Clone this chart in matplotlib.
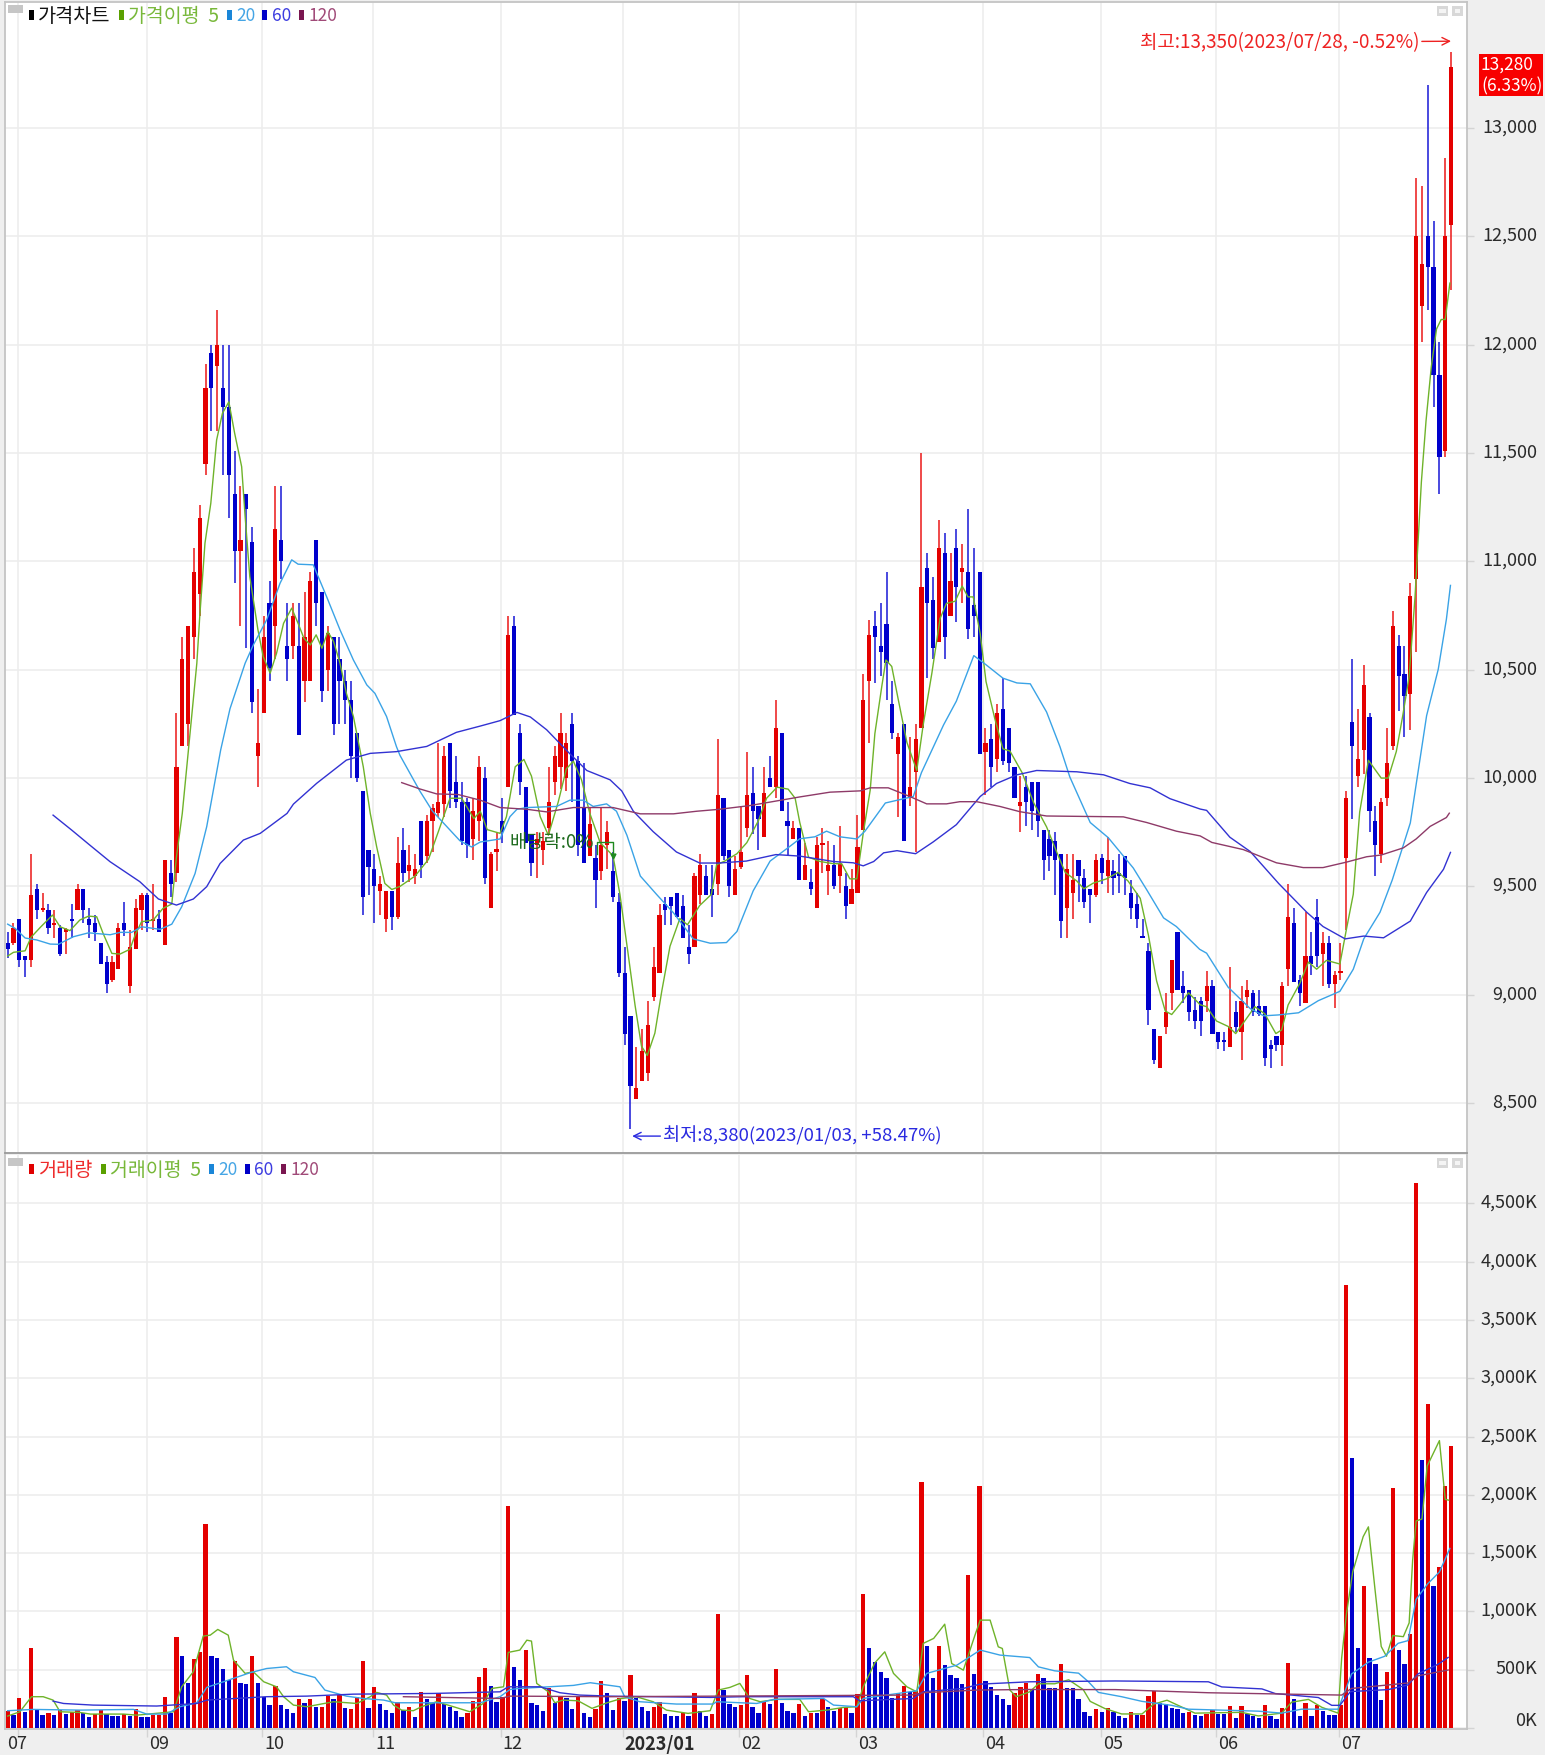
import matplotlib
matplotlib.use("Agg")
import matplotlib.pyplot as plt
from matplotlib.patches import Rectangle
from matplotlib.transforms import ScaledTranslation
import numpy as np

plt.rcParams['font.family'] = ['Noto Sans CJK KR', 'DejaVu Sans']

W, H = 1545, 1755

opens = [9240,9240,9350,9180,9160,9490,9390,9390,9320,9310,
         9290,9350,9390,9490,9350,9330,9240,9150,9070,9120,
         9330,9040,9210,9390,9460,9340,9350,9230,9560,9560,
         10150,10250,10650,10850,11450,11960,11900,11800,11710,11310,
         11050,11310,11090,10100,10300,10810,10700,11100,10610,10610,
         10610,10450,10450,11100,10860,10500,10650,10550,10450,10360,
         10210,9940,9670,9580,9480,9350,9480,9360,9670,9570,
         9550,9800,9640,9800,9840,9880,10160,9980,9890,9890,
         9720,9800,10000,9400,9660,9800,9960,10700,10210,9960,
         9740,9690,9670,9770,9980,10050,10000,10250,10080,9860,
         9640,9630,9570,9690,9570,9430,9100,8900,8520,8600,
         8640,8990,9100,9420,9450,9470,9410,9220,9220,9460,
         9550,9490,9510,9910,9670,9460,9590,9770,9930,9870,
         9730,10000,9960,10210,9800,9720,9770,9530,9520,9400,
         9690,9570,9600,9550,9500,9420,9470,9760,10450,10700,
         10610,10710,10340,10110,10250,9910,10030,10230,10970,10820,
         10630,11040,10750,11060,10950,10950,10800,10950,10120,10180,
         10090,10320,10230,10050,9870,9960,9980,9980,9760,9720,
         9710,9650,9400,9470,9620,9540,9490,9460,9630,9550,
         9570,9560,9640,9470,9420,9270,9200,8840,8660,8850,
         9010,9290,9040,9020,8930,8970,8970,9040,8830,8790,
         8760,8920,8830,8990,9010,8950,8950,8770,8810,8770,
         9120,9330,9070,8960,9180,9360,9190,9240,9050,9100,
         9630,10260,10010,10130,10280,9800,9650,9910,10150,10610,
         10480,10390,10920,12180,12500,12360,11860,11510,12550]
closes = [9210,9310,9160,9160,9460,9390,9400,9310,9330,9190,
          9300,9340,9490,9390,9320,9290,9140,9050,9150,9310,
          9300,9220,9400,9460,9330,9350,9290,9620,9510,10050,
          10550,10700,10950,11200,11800,11800,12000,11710,11400,11050,
          11100,11240,10350,10160,10650,10510,11150,11000,10550,10750,
          10200,10650,10910,10810,10400,10670,10250,10450,10360,10100,
          10000,9450,9590,9500,9510,9480,9360,9610,9560,9600,
          9580,9600,9800,9860,9890,10100,9940,9890,9710,9690,
          9850,10050,9540,9650,9670,9750,10660,10290,9980,9700,
          9610,9720,9710,9890,10100,10210,10160,10080,9690,9610,
          9790,9530,9690,9750,9450,9100,8820,8580,8570,8740,
          8860,9130,9370,9390,9410,9360,9260,9190,9550,9600,
          9460,9460,9920,9640,9500,9580,9660,9920,9850,9810,
          9930,9960,10230,9850,9780,9770,9530,9600,9490,9690,
          9700,9600,9500,9610,9410,9490,9680,10360,10660,10650,
          10580,10530,10210,10190,9710,9960,10180,10880,10810,10600,
          11060,10650,10910,10880,10970,10690,10750,10110,10160,10050,
          10300,10080,10070,9910,9890,9890,9850,9800,9620,9640,
          9620,9340,9580,9530,9550,9430,9460,9620,9560,9620,
          9540,9550,9540,9400,9350,9260,8930,8700,8810,8920,
          9160,9020,9010,8920,8880,8880,9040,8820,8780,8780,
          8850,8850,8970,9020,8920,8910,8710,8750,8770,9040,
          9360,9060,9010,9180,9140,9180,9240,9050,9090,9110,
          9910,10150,10090,10430,9850,9690,9890,10070,10700,10470,
          10380,10840,12500,12370,12360,11860,11480,12500,13280]
highs = [9290,9330,9350,9180,9650,9510,9470,9420,9390,9320,
         9310,9420,9510,9490,9400,9370,9240,9180,9180,9330,
         9430,9300,9440,9470,9470,9510,9390,9620,9620,10300,
         10650,10700,11060,11260,11910,12000,12160,12000,12000,11510,
         11350,11310,11160,10410,10750,10910,11350,11350,10810,10810,
         10810,10860,10950,11100,10860,10700,10650,10650,10500,10450,
         10210,9940,9670,9650,9550,9480,9480,9730,9770,9690,
         9650,9800,9830,9880,10160,10150,10160,10100,9980,9910,
         9910,10100,10050,9660,9750,9910,10750,10750,10250,9960,
         9740,9750,9750,10050,10150,10300,10210,10300,10100,10070,
         9860,9690,9860,9800,9660,9470,9220,8900,8760,8840,
         8970,9220,9420,9450,9450,9470,9460,9320,9560,9650,
         9600,9600,10180,9910,9670,9640,9870,10120,10050,9870,
         10050,10100,10360,10210,9890,9800,9770,9700,9580,9730,
         9770,9710,9690,9780,9560,9580,9830,10480,10730,10770,
         10810,10950,10450,10210,10250,10190,10250,11500,11040,10930,
         11190,11130,11040,11150,11080,11240,11060,10950,10230,10250,
         10340,10460,10230,10050,10010,10010,9980,9980,9760,9760,
         9750,9650,9650,9650,9620,9580,9490,9650,9650,9730,
         9620,9650,9640,9530,9470,9350,9240,8840,8810,9010,
         9160,9290,9110,9020,8990,8990,9110,9070,8830,8830,
         9130,8970,9040,9070,9020,9020,8950,8790,8810,9060,
         9510,9400,9090,9380,9290,9440,9290,9270,9110,9240,
         9940,10550,10320,10520,10300,9870,9910,10230,10770,10660,
         10610,10900,12770,12730,13200,12570,12010,12860,13350]
lows = [9170,9230,9130,9080,9130,9350,9380,9280,9260,9180,
        9190,9260,9390,9330,9260,9250,9140,9010,9060,9120,
        9270,9010,9210,9300,9290,9300,9290,9230,9450,9520,
        10150,10150,10550,10750,11400,11600,11600,11400,11200,10900,
        10700,10600,10300,9960,10300,10450,10550,10920,10450,10550,
        10200,10350,10450,10700,10350,10400,10200,10250,10250,10000,
        9980,9370,9460,9330,9370,9290,9300,9350,9520,9520,
        9510,9540,9610,9660,9820,9820,9860,9860,9690,9630,
        9620,9710,9510,9400,9570,9700,9960,10290,9920,9700,
        9550,9540,9600,9740,9920,9950,9940,9890,9640,9610,
        9640,9400,9530,9580,9430,9080,8770,8380,8520,8600,
        8600,8970,9100,9320,9320,9360,9260,9140,9220,9420,
        9460,9360,9460,9620,9450,9460,9580,9730,9740,9670,
        9730,9960,9910,9850,9640,9720,9530,9530,9460,9400,
        9560,9460,9490,9470,9350,9420,9470,9760,10160,10440,
        10470,10360,10180,9820,9710,9870,9660,10230,10460,10550,
        10630,10550,10750,10720,10810,10640,10650,10110,9920,9960,
        10030,10060,10030,9910,9750,9780,9760,9730,9530,9570,
        9460,9260,9260,9350,9430,9400,9330,9450,9510,9470,
        9460,9470,9460,9350,9310,9260,8860,8680,8660,8820,
        8930,9020,8960,8880,8840,8810,8920,8820,8750,8740,
        8760,8830,8700,8940,8900,8900,8670,8660,8740,8670,
        9040,9060,8950,8960,9090,9130,9040,9030,8940,9070,
        9300,9810,9960,10020,9750,9550,9610,9870,10130,10310,
        10190,10220,10580,12010,12160,11710,11310,11480,12250]

volumes = [143,108,257,140,683,154,114,128,114,154,
           120,140,154,131,91,120,154,120,103,103,
           120,103,166,91,91,108,114,268,125,783,
           617,388,591,654,1748,617,603,503,411,577,
           388,374,617,388,268,194,360,194,166,131,
           246,217,246,183,183,274,246,283,169,166,
           268,577,169,349,203,154,131,223,154,183,
           91,311,246,217,297,206,183,143,91,131,
           234,440,511,360,223,263,1903,526,411,669,
           217,194,143,340,217,263,257,166,268,126,
           91,166,400,297,154,257,229,451,257,180,
           143,180,223,117,106,106,131,106,297,143,
           103,117,977,326,206,180,194,451,180,131,
           229,206,503,217,143,131,206,106,131,131,
           246,180,143,171,183,131,289,1146,683,569,
           477,426,257,297,360,311,320,2108,706,426,
           706,540,451,426,374,1311,463,2074,400,349,
           283,246,194,297,349,387,330,464,431,347,
           347,548,340,340,246,138,101,165,141,175,
           141,101,87,138,114,114,279,320,219,209,
           168,165,128,138,114,101,121,151,118,118,
           188,87,188,118,101,87,202,101,74,175,
           562,252,101,215,101,202,145,114,114,195,
           3805,2315,690,1218,599,548,242,485,2056,666,
           548,808,4680,2298,2776,1218,1383,2079,2416]
volume_dirs = ("rbrbrbbrbr" "brrbbrrbbb" "rbrbbrrrbr" "bbrrrbbbbr" "bbrbbbrbbb"
               "rbrbrrbrbr" "rrbrbbbrbr" "brbbrbbbbr" "rrrbbrrbbr" "bbbrbrbbrb"
               "brrbbrbrbb" "brrbbbrbrb" "brrbbbrrbb" "rbrbbbrbrb" "rbbrrbrrbb"
               "bbbrrbrrbb" "rbbbbrbrbb" "bbbrrrbrbb" "brbbbbbrbr" "bbbrbrrrbb"
               "bbbrbbrrbb" "rbrbbbrbbr" "rbbrbrbbbr" "rbbrbbbrrb" "brrbrbrrr")

ma5_x = [0,1,3,4,5.6,7.7,9,10.7,12.4,13.9,15.3,16.4,17.9,19.3,21,21.9,23,25,26.7,28.2,29,30,31,32.5,33,33.9,34.9,35.9,36.9,38,39,40.2,40.8,41.6,43,43.9,45.1,46.2,47.4,48.8,49.9,50.9,52,53,54,55,56,57.1,58.2,59.4,60.2,61.1,62.3,63.4,64.8,66,67.4,70,72.3,74,76,78,80.1,81.2,82.4,84.6,85.7,87.2,88.7,90,91.5,92.9,94.6,96,97.2,98.6,100,101.8,104,105.2,106.6,107.8,108.9,109.9,111.2,112.4,113.8,115.5,116.8,118.9,120.9,121.8,123.2,125.3,127,129,130.4,132.2,134.1,135.3,136.1,137.6,139.6,141.9,143.3,144.7,145.9,147,148.2,149,150.2,150.9,151.9,153,154.5,156.2,157.3,158.8,160.2,161.3,162.8,164,165,165.9,167.1,168.1,169.6,171,172.2,174.3,176.3,178.5,180.3,181.7,183.7,184.9,186.5,188.8,190.8,192.5,194.6,196,197.4,198.9,200,201.4,202.9,204.9,206,207.7,209.7,211,212.3,214.3,216,217.9,218.9,220,222,223.5,224.9,226.6,228.9,230,231.2,232.3,233.8,236,237.2,238.6,239.7,240.8,241.8,242.9,243.7,244.6,245.5,246.3,247,247.8]
ma5_y = [9179,9196,9203,9265,9311,9368,9314,9296,9345,9363,9360,9283,9191,9188,9210,9276,9337,9345,9399,9419,9637,9837,10114,10530,10745,11084,11268,11560,11683,11736,11591,11437,11207,10930,10684,10561,10484,10576,10714,10784,10714,10645,10614,10661,10599,10676,10630,10530,10391,10284,10176,10052,9837,9683,9514,9486,9500,9548,9625,9753,9907,9907,9813,9847,9762,9745,9822,10052,10086,10009,9822,9736,9890,10043,10078,9992,9839,9702,9642,9463,9190,8951,8763,8720,8823,9019,9224,9352,9323,9412,9463,9600,9617,9651,9702,9804,9907,9958,9949,9907,9795,9635,9615,9605,9605,9535,9535,9745,9945,10205,10425,10545,10515,10365,10165,10035,10245,10485,10736,10806,10816,10886,10836,10836,10666,10445,10275,10135,10125,10025,9885,9775,9655,9565,9525,9489,9515,9535,9565,9525,9445,9275,9065,8925,8909,8955,9009,8954,8945,8879,8854,8821,8870,8945,8912,8821,8838,8953,9052,9151,9118,9159,9142,9299,9464,9843,10082,10000,10000,10123,10288,10469,10832,11366,11648,11896,12072,12116,12116,12284]
ma20_x = [0,1.3,3,5,7.3,8.7,11.3,13.9,17.6,19.3,21.3,23,26.2,28.2,29.9,32.2,34.2,36.6,38.2,40.8,42.2,44.5,46.8,48.8,49.9,52.5,54.8,57.1,59.4,61.7,63.1,65.1,66.8,67.4,70.8,73,77.7,79.7,81.2,84.6,86.3,87.5,89.2,94.3,96.6,98.9,100.6,102.9,104.6,106.4,108.7,111.5,114.4,117.8,120.7,123.5,125.3,128.1,131,134.4,136.1,138.7,140.7,143,145.9,147.3,150.8,155.6,157,160.8,163,166,168,171,173.4,175.7,178.5,180.8,182.5,186,189.1,193.4,195.7,198.6,200.8,204.8,206,209.7,213.5,215.8,218.3,221.8,225.2,228.9,231.2,233,235.8,237.9,241,243.8,245.8,247.2,247.9]
ma20_y = [9326,9306,9262,9253,9234,9233,9268,9286,9277,9288,9288,9314,9302,9326,9406,9560,9776,10130,10320,10530,10614,10730,10899,11007,10987,10984,10837,10684,10545,10430,10391,10284,10145,10105,9941,9847,9711,9682,9705,9719,9822,9856,9864,9869,9898,9898,9869,9881,9847,9736,9548,9463,9378,9258,9238,9241,9292,9480,9617,9685,9720,9729,9755,9729,9719,9755,9885,9915,10025,10245,10355,10565,10525,10461,10439,10435,10305,10145,10005,9795,9725,9585,9485,9355,9315,9210,9192,9035,8936,8903,8907,8917,8973,9016,9118,9258,9381,9530,9793,10288,10502,10733,10889]
ma60_x = [7.8,11,14.1,17.6,22.7,25.9,29,31.9,34.2,36.5,40.5,43.4,48,49.1,53.1,58.2,62.3,66.8,72,77.1,81.2,84.6,87.5,89.8,92.6,96.6,99.5,103.5,105.5,107.5,110.9,114.9,118.9,122.3,126.9,132,136.1,141.9,145.3,147,148.8,150.5,152.8,156,159,163,167.1,169.9,173.4,176.8,183.7,188.3,192.8,196.3,199.7,204.9,206,210,213.5,218.4,223.2,226,229.8,233,236.4,241,243.8,246.7,247.9]
ma60_y = [9829,9760,9691,9614,9522,9442,9414,9442,9499,9606,9714,9745,9837,9880,9976,10083,10114,10122,10146,10211,10240,10265,10303,10282,10223,10112,10035,9992,9941,9847,9753,9659,9608,9608,9617,9647,9640,9615,9609,9595,9615,9655,9665,9651,9705,9785,9915,9975,10015,10035,10029,10015,9975,9955,9905,9857,9851,9727,9661,9513,9381,9315,9258,9271,9263,9340,9472,9579,9657]
ma120_x = [67.7,70.8,73.7,77.4,81.2,84.6,89.2,92.6,97.2,104,108.7,114.4,118.4,122.3,127.5,136.1,141.3,146.5,148.2,151.3,155,157.9,161.3,163.6,166.5,170.5,173.9,178.5,191.7,195.7,200.8,204.9,206.9,212.3,218,222.6,226,230,233.5,236,239.8,242,244.4,247.2,247.7]
ma120_y = [9979,9950,9927,9924,9898,9864,9856,9844,9864,9864,9835,9835,9847,9856,9873,9913,9935,9941,9955,9955,9915,9881,9881,9891,9891,9869,9845,9825,9821,9795,9755,9733,9703,9670,9609,9587,9587,9612,9637,9645,9678,9719,9777,9818,9838]

vma5_x = [0,2.1,4.1,6.1,7.8,9,12.4,14.2,19.9,22.2,28.5,29.9,31.9,33.6,34.8,36.1,37.9,38.8,40.8,42.2,44,46.2,47.4,49.1,51.4,56,60,62.3,63.4,65.1,66.3,67.7,69.7,71.1,73.7,76.6,79.4,81.7,83.2,85.2,86,88,89.2,90,90.9,92.9,94,95.4,98,100.4,103,105.5,108,110.9,113.2,116.9,120.7,122.1,124.1,125.8,127.5,129.3,132.1,136.1,137.6,140.7,143.6,145.9,147,149,150.7,152.2,154.5,156.2,157.3,159.1,161,162.2,164.2,166.2,167.1,168.8,170.2,170.9,172.2,173.3,175.6,177.1,179.9,182.3,184.8,186,188.5,191.4,194.9,196.9,199.2,201.1,204,212,214.9,218.9,220.6,223.5,225.8,228.6,229.2,230,231.1,232.9,233.8,234.9,236,236.9,238,239.8,240.8,241.4,242,243,243.9,246,247,247.6]
vma5_y = [103,140,269,269,240,140,134,120,120,111,140,354,483,789,797,846,797,583,469,483,397,354,269,197,183,226,211,269,306,283,197,154,149,183,226,183,140,211,340,354,649,669,754,746,383,311,217,240,234,169,217,254,269,226,154,126,149,326,349,383,254,226,246,246,140,154,177,183,354,560,654,469,354,311,726,769,891,554,497,797,926,926,697,683,326,269,311,380,380,414,330,229,168,121,121,205,239,195,128,135,104,128,222,246,178,128,599,969,1339,1642,1726,1205,700,616,794,784,902,1440,1777,1793,2248,2466,1962,1955]
vma20_x = [0,4.4,12.4,21.6,23.9,27.3,29.6,32.5,34.2,37.6,41.6,44.5,47.9,49.1,52.8,54.5,58.2,61.1,64.6,66.6,69.7,81.2,84.6,86.3,88,97.2,100.1,105.2,106,108.6,114.9,121.2,121.8,128.7,131.6,140.2,141.9,145.9,147,151,156.2,157.9,163.1,167.1,170.5,175.6,177.1,179.9,184,185.7,187.4,191.4,194.9,200,202.9,214.9,218.9,222.3,228.6,230.9,233.8,236.6,238.9,240.6,242,244,246,247.8]
vma20_y = [149,160,154,160,120,120,183,217,349,406,474,511,526,483,434,326,274,254,240,217,217,217,269,331,340,366,389,354,269,226,206,206,226,211,246,254,197,183,254,283,320,469,540,669,626,605,525,491,471,397,306,269,229,195,162,145,128,162,162,464,565,616,727,750,1104,1238,1339,1541]
vma60_x = [7.8,9.6,14.7,25.6,32.5,34.2,44.5,51.4,59.4,73.1,84.6,86,91.5,94.9,98.3,103.5,120.7,126.4,145.3,146.4,155.6,157.3,164.2,167.1,175.6,190.3,206.3,208.6,215.5,217.8,225.2,227.5,228.9,230.7,237.2,240.6,242.3,245.8,247.5]
vma60_y = [231,211,197,189,211,240,269,274,291,297,311,354,354,303,283,274,263,269,269,234,254,311,340,377,397,404,397,353,336,296,262,195,195,313,330,370,464,548,606]
vma120_x = [68,84.6,86.3,103.5,155.2,157.3,166.5,175.6,182.3,190.3,206.3,229.2,230.9,237.2,240.6,242.3,247.5]
vma120_y = [269,254,274,269,283,303,326,331,330,330,303,283,340,370,387,448,498]

price_ticks = [8500,9000,9500,10000,10500,11000,11500,12000,12500,13000]
price_labels = ['8,500','9,000','9,500','10,000','10,500','11,000','11,500','12,000','12,500','13,000']
vol_ticks = [0,500,1000,1500,2000,2500,3000,3500,4000,4500]
vol_labels = ['0K','500K','1,000K','1,500K','2,000K','2,500K','3,000K','3,500K','4,000K','4,500K']
month_pos = [1.72,23.9,43.7,62.8,84.7,105.7,125.7,145.8,167.6,187.8,207.6,228.7]
month_labels = ['07','09','10','11','12','2023/01','02','03','04','05','06','07']

RED = '#e40000'
BLUE = '#0000cc'
GREEN = '#6fb32a'
SKY = '#3aa3e6'
NAVY = '#3232d2'
MAROON = '#8e3a68'
GRID = '#ededed'
STRIP = '#efefef'

idx = np.arange(len(opens))
opens = np.array(opens)
closes = np.array(closes)
up = closes >= opens
candle_colors = np.where(up, RED, BLUE)
wick_colors = np.where(up, '#ec2020', '#2020d8')


def px_axes(x0, y0, x1, y1):
    return [x0 / W, 1 - y1 / H, (x1 - x0) / W, (y1 - y0) / H]


def px_box(x0, y0, x1, y1, color):
    fig.patches.append(Rectangle((x0 / W, 1 - y1 / H), (x1 - x0) / W, (y1 - y0) / H,
                                 transform=fig.transFigure, facecolor=color, edgecolor='none'))


def px_text(x, y, s, color, size=12.5, **kw):
    fig.text(x / W, 1 - y / H, s, color=color, fontsize=size, va='center', **kw)


def shift_label(lab, dx=0, dy=0):
    lab.set_transform(lab.get_transform() + ScaledTranslation(dx / 100, dy / 100, fig.dpi_scale_trans))


fig = plt.figure(figsize=(W / 100, H / 100), dpi=100, facecolor=STRIP)
ax = fig.add_axes(px_axes(5, 2, 1467, 1153))
ax2 = fig.add_axes(px_axes(5, 1155, 1467, 1729))

# candles
ax.vlines(idx, lows, highs, colors=wick_colors, linewidth=1.15, zorder=3)
ax.bar(idx, np.maximum(np.abs(closes - opens), 12), bottom=np.minimum(opens, closes),
       width=0.72, color=candle_colors, linewidth=0, zorder=4)
ax.plot(ma5_x, ma5_y, color=GREEN, lw=1.0, zorder=6)
ax.plot(ma20_x, ma20_y, color=SKY, lw=1.0, zorder=6)
ax.plot(ma60_x, ma60_y, color=NAVY, lw=1.0, zorder=6)
ax.plot(ma120_x, ma120_y, color=MAROON, lw=1.0, zorder=6)

ax.set_xlim(-0.46, 250.74)
ax.set_ylim(8270, 13581)
ax.set_yticks(price_ticks)
ax.set_yticklabels(price_labels)

# volume
vol_colors = [RED if c == 'r' else BLUE for c in volume_dirs]
ax2.bar(idx, volumes, width=0.74, color=vol_colors, linewidth=0, zorder=3)
ax2.plot(vma5_x, vma5_y, color=GREEN, lw=1.0, zorder=6)
ax2.plot(vma20_x, vma20_y, color=SKY, lw=1.0, zorder=6)
ax2.plot(vma60_x, vma60_y, color=NAVY, lw=1.0, zorder=6)
ax2.plot(vma120_x, vma120_y, color=MAROON, lw=1.0, zorder=6)
ax2.set_xlim(-0.46, 250.74)
ax2.set_ylim(-8, 4916)
ax2.set_yticks(vol_ticks)
ax2.set_yticklabels(vol_labels)

for a in (ax, ax2):
    a.set_facecolor('white')
    a.set_axisbelow(True)
    a.set_xticks(month_pos)
    a.grid(True, color=GRID, linewidth=1.2)
    a.yaxis.tick_right()
    a.tick_params(axis='y', length=5, width=1, color='#d4d4d4', pad=45.4,
                  labelsize=13, labelcolor='#2a2a2a')
    for lab in a.get_yticklabels():
        lab.set_ha('right')
        shift_label(lab, dy=2.5)
    for s in a.spines.values():
        s.set_color('#c4c4c4')
        s.set_linewidth(1.3)

ax.tick_params(axis='x', length=0, labelbottom=False)
ax.spines['bottom'].set_color('#9a9a9a')
ax2.spines['top'].set_visible(False)

ax2.set_xticklabels(month_labels)
ax2.tick_params(axis='x', length=6, width=1, color='#d4d4d4', pad=-1.4,
                labelsize=13, labelcolor='#2a2a2a')
for i, lab in enumerate(ax2.get_xticklabels()):
    lab.set_ha('left')
    shift_label(lab, dx=-11 if i == 0 else 2)
    if month_labels[i] == '2023/01':
        lab.set_fontweight('bold')
zero_label = ax2.get_yticklabels()[0]
zero_label.set_va('bottom')
shift_label(zero_label, dy=-4.5)

# high / low notes
ax.annotate('최고:13,350(2023/07/28, -0.52%)', xy=(248, 13400), xytext=(-32, -1),
            textcoords='offset pixels', color='#ee2222', fontsize=13.6, ha='right', va='center',
            arrowprops=dict(arrowstyle='->', color='#ee2222', lw=1, shrinkA=0, shrinkB=0))
ax.annotate('최저:8,380(2023/01/03, +58.47%)', xy=(107.3, 8348), xytext=(31, 0),
            textcoords='offset pixels', color='#2a2ae0', fontsize=13.4, ha='left', va='center',
            arrowprops=dict(arrowstyle='->', color='#2a2ae0', lw=1, shrinkA=0, shrinkB=0))

# dividend mark
ax.plot([101.3, 101.3, 104, 104], [9650, 9705, 9705, 9650], color='#1f8a1f', lw=1, zorder=7)
ax.plot([104], [9640], marker='v', ms=3.5, color='#1f8a1f', zorder=7)
ax.text(86.3, 9705, '배당락:0%', color='#1e6b1e', fontsize=13.5, va='center', zorder=8)

# last price box
px_box(1479, 54, 1543, 96, '#f80000')
px_text(1481, 65, '13,280', 'white')
px_text(1481, 86, '(6.33%)', 'white')

# pane headers
px_box(8, 5, 23, 13, '#c6c6c6')
px_box(8, 1158, 23, 1166, '#c6c6c6')
for y, items in [(15, [(31, 38, '가격차트', '#111111', '#000000', 14.2), (121, 128, '가격이평  5', '#78b83a', '#5aa000', 14),
                       (229, 236, '20', '#45a5e5', '#1a86d8', 12.5), (264, 272, '60', '#3c3ce0', '#0000c8', 12.5),
                       (301, 309, '120', '#a04a78', '#7a1650', 12.5)]),
                 (1169, [(31, 38, '거래량', '#ee2a2a', '#e00000', 14.2), (103, 110, '거래이평  5', '#78b83a', '#5aa000', 14),
                         (211, 218, '20', '#45a5e5', '#1a86d8', 12.5), (247, 254, '60', '#3c3ce0', '#0000c8', 12.5),
                         (283, 291, '120', '#a04a78', '#7a1650', 12.5)])]:
    for sq_x, tx, s, col, sq_col, size in items:
        px_box(sq_x - 2, y - 5, sq_x + 3, y + 5, sq_col)
        px_text(tx, y + 1, s, col, size=size)

# small pane buttons
for y in (6, 1158):
    px_box(1437, y, 1448, y + 10, '#d8d8d8')
    px_box(1439, y + 3, 1446, y + 7, '#f4f4f4')
    px_box(1452, y, 1463, y + 10, '#d8d8d8')
    px_box(1455, y + 3, 1460, y + 7, '#f4f4f4')

fig.savefig('out.png', dpi=100, facecolor=fig.get_facecolor())
